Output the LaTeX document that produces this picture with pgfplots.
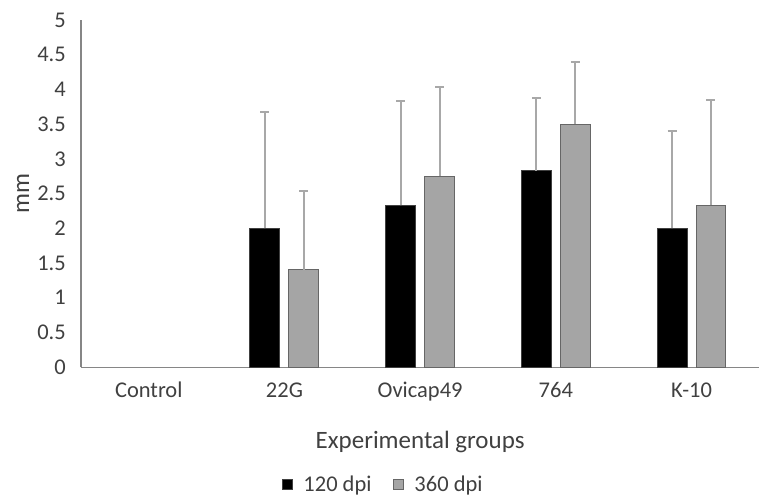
\documentclass[border=0pt]{standalone}
\usepackage{fontspec}
\setmainfont{Carlito}
\usepackage{pgfplots}
\pgfplotsset{compat=1.18}
\definecolor{axisgray}{HTML}{868686}
\definecolor{bargray}{HTML}{A5A5A5}
\definecolor{errgray}{HTML}{A8A8A8}
\definecolor{txt}{HTML}{404040}
\begin{document}
\begin{tikzpicture}
\begin{axis}[
  at={(0,0)}, anchor=south west,
  scale only axis,
  width=679bp, height=347.5bp,
  ybar=9bp, bar width=30bp,
  xmin=-0.5, xmax=4.5,
  ymin=0, ymax=5,
  xtick={0,1,2,3,4},
  xticklabels={Control,22G,Ovicap49,764,K-10},
  ytick={0,0.5,...,5},
  /pgf/number format/assume math mode=true,
  major tick length=0pt,
  axis x line*=bottom, axis y line*=left,
  axis line style={draw=axisgray, line width=1.3bp, -},
  font=\fontsize{22.5bp}{27bp}\selectfont,
  tick label style={text=txt},
  xticklabel style={anchor=base, inner sep=0pt, yshift=-30bp},
  yticklabel style={anchor=east, inner sep=0pt, xshift=-15bp},
  xlabel={Experimental groups},
  ylabel={mm},
  every axis x label/.style={at={(axis description cs:0.5,-0.2345)}, anchor=base, text=txt, font=\fontsize{25bp}{30bp}\selectfont},
  every axis y label/.style={at={(axis description cs:-0.0854,0.5)}, anchor=center, rotate=90, text=txt, font=\fontsize{25bp}{30bp}\selectfont},
  legend columns=2,
  legend style={at={(axis description cs:0.446,-0.338)}, anchor=center, draw=none, fill=none,
    font=\fontsize{22.5bp}{27bp}\selectfont, text=txt,
    /tikz/every even column/.append style={column sep=20bp},
    nodes={inner sep=2bp}},
  legend image code/.code={\draw[#1] (0bp,-5bp) rectangle (10bp,5bp); \path (18bp,0bp);},
  error bars/error bar style={color=errgray, line width=1.8bp},
  error bars/error mark options={rotate=90, mark size=4.5bp, color=errgray, line width=2bp},
  clip=false,
]
% 120 dpi
\addplot[fill=black, draw=black!75, line width=1bp,
  error bars/.cd, y dir=plus, y explicit]
  coordinates {
    (1,2.00) +- (0,1.67)
    (2,2.33) +- (0,1.50)
    (3,2.83) +- (0,1.04)
    (4,2.00) +- (0,1.40)
  };
% 360 dpi
\addplot[fill=bargray, draw=black!60, line width=1bp,
  error bars/.cd, y dir=plus, y explicit]
  coordinates {
    (1,1.40) +- (0,1.13)
    (2,2.75) +- (0,1.28)
    (3,3.50) +- (0,0.90)
    (4,2.33) +- (0,1.52)
  };
\legend{120 dpi, 360 dpi}
\end{axis}
\path[use as bounding box] (-81bp,-129.5bp) rectangle (679bp,367.5bp);
\end{tikzpicture}
\end{document}
